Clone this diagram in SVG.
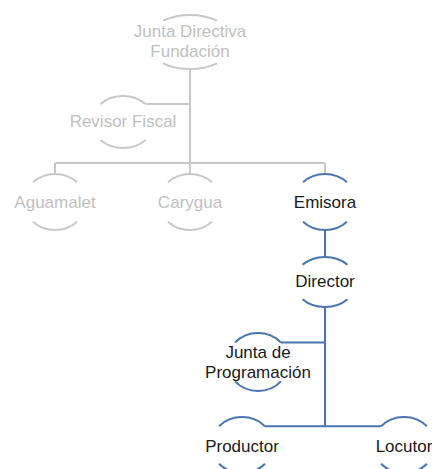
<svg xmlns="http://www.w3.org/2000/svg" width="432" height="469" viewBox="0 0 432 469">
<style>
  .g{fill:none;stroke:#c8c8c8;stroke-width:2}
  .b{fill:none;stroke:#4a74b0;stroke-width:2}
  text{font-family:"Liberation Sans",Arial,sans-serif;font-size:17px;text-anchor:middle}
  .tg{fill:#c0c0c0}
  .tb{fill:#1a1a1a}
</style>
<rect width="432" height="469" fill="#ffffff"/>
<g id="connectors">
  <path class="g" d="M190,69V163M145.5,104H190M55,163H325M55,163V174M190,163V174M325,163V174"/>
  <path class="b" d="M325,230V257M325,307V426.2M281,342.6H325M265,426.2H381"/>
</g>
<g id="n-junta-directiva">
  <path class="g" d="M163,20.7A44,27 0 0 1 217,20.7M163,63.3A44,27 0 0 0 217,63.3"/>
  <text class="tg" x="190" y="37">Junta Directiva</text>
  <text class="tg" x="190" y="57">Fundación</text>
</g>
<g id="n-revisor">
  <path class="g" d="M100.5,104.1A31,26 0 0 1 145.5,104.1M100.5,139.9A31,26 0 0 0 145.5,139.9"/>
  <text class="tg" x="123" y="127">Revisor Fiscal</text>
</g>
<g id="n-aguamalet">
  <path class="g" d="M33,182.3A31,28 0 0 1 77,182.3M33,221.7A31,28 0 0 0 77,221.7"/>
  <text class="tg" x="55" y="207.5">Aguamalet</text>
</g>
<g id="n-carygua">
  <path class="g" d="M168,182.3A31,28 0 0 1 212,182.3M168,221.7A31,28 0 0 0 212,221.7"/>
  <text class="tg" x="190" y="207.5">Carygua</text>
</g>
<g id="n-emisora">
  <path class="b" d="M303,182.3A31,28 0 0 1 347,182.3M303,221.7A31,28 0 0 0 347,221.7"/>
  <text class="tb" x="325" y="207.5">Emisora</text>
</g>
<g id="n-director">
  <path class="b" d="M302.5,264.8A31,25 0 0 1 347.5,264.8M302.5,299.2A31,25 0 0 0 347.5,299.2"/>
  <text class="tb" x="325" y="287">Director</text>
</g>
<g id="n-junta-programacion">
  <path class="b" d="M235,342.6A31,29 0 0 1 281,342.6M235,381.4A31,29 0 0 0 281,381.4"/>
  <text class="tb" x="258" y="358">Junta de</text>
  <text class="tb" x="258" y="378">Programación</text>
</g>
<g id="n-productor">
  <path class="b" d="M219,426.2A31,28 0 0 1 265,426.2M219,463.8A31,28 0 0 0 265,463.8"/>
  <text class="tb" x="242" y="452">Productor</text>
</g>
<g id="n-locutor">
  <path class="b" d="M381,426.2A31,28 0 0 1 427,426.2M381,463.8A31,28 0 0 0 427,463.8"/>
  <text class="tb" x="404" y="452">Locutor</text>
</g>
</svg>
